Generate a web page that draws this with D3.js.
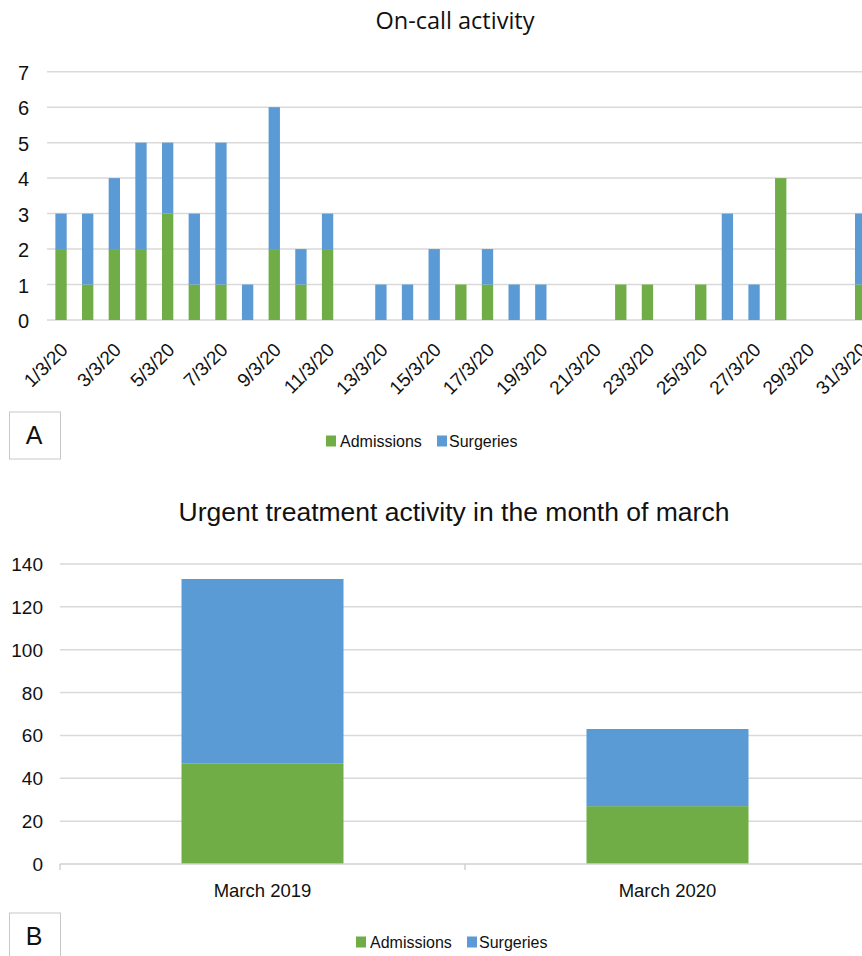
<!DOCTYPE html>
<html>
<head>
<meta charset="utf-8">
<script src="https://cdn.jsdelivr.net/npm/d3@7"></script>
<style>
    body { margin: 0; background: #fff; }
    svg { display: block; font-family: "Liberation Sans", Arial, sans-serif; }
</style>
</head>
<body>
<div id="chart"></div>
<script>
// daily on-call activity, March 2020
const dayLabels = ['1/3/20', '2/3/20', '3/3/20', '4/3/20', '5/3/20', '6/3/20', '7/3/20', '8/3/20',
    '9/3/20', '10/3/20', '11/3/20', '12/3/20', '13/3/20', '14/3/20', '15/3/20', '16/3/20',
    '17/3/20', '18/3/20', '19/3/20', '20/3/20', '21/3/20', '22/3/20', '23/3/20', '24/3/20',
    '25/3/20', '26/3/20', '27/3/20', '28/3/20', '29/3/20', '30/3/20', '31/3/20'];
const dailyAdmissions = [2, 1, 2, 2, 3, 1, 1, 0, 2, 1, 2, 0, 0, 0, 0, 1, 1, 0, 0, 0, 0, 1, 1, 0, 1, 0, 0, 4, 0, 0, 1];
const dailySurgeries = [1, 2, 2, 3, 2, 2, 4, 1, 4, 1, 1, 0, 1, 1, 2, 0, 1, 1, 1, 0, 0, 0, 0, 0, 0, 3, 1, 0, 0, 0, 2];
const dailyTicks = [0, 1, 2, 3, 4, 5, 6, 7];

// monthly totals
const months = ['March 2019', 'March 2020'];
const monthAdmissions = [47, 27];
const monthSurgeries = [86, 36];
const monthTicks = [0, 20, 40, 60, 80, 100, 120, 140];

const seriesNames = ['Admissions', 'Surgeries'];
const colors = { Admissions: '#70ad47', Surgeries: '#5b9bd5' };

const width = 862, height = 956;

const svg = d3.select('#chart').append('svg')
    .attr('width', width)
    .attr('height', height);

function stackedChart(cfg) {
    const g = svg.append('g');
    const rows = cfg.labels.map((l, i) => ({ label: l, Admissions: cfg.adm[i], Surgeries: cfg.surg[i] }));
    const series = d3.stack().keys(seriesNames)(rows);

    const x = d3.scaleBand()
        .domain(cfg.labels)
        .range(cfg.xRange)
        .paddingInner(cfg.pad)
        .paddingOuter(cfg.pad / 2);
    const y = d3.scaleLinear()
        .domain([0, d3.max(cfg.ticks)])
        .range(cfg.yRange);

    // gridlines
    g.append('g').selectAll('line')
        .data(cfg.ticks.filter(t => cfg.baseAxis ? t > 0 : true))
        .join('line')
        .attr('x1', cfg.gridX0).attr('x2', width)
        .attr('y1', d => y(d)).attr('y2', d => y(d))
        .attr('stroke', '#d9d9d9')
        .attr('stroke-width', 1.5);

    // y labels
    g.append('g').selectAll('text')
        .data(cfg.ticks)
        .join('text')
        .attr('x', cfg.yLabelX)
        .attr('y', d => y(d) + cfg.yLabelDy)
        .attr('text-anchor', 'end')
        .attr('font-size', cfg.yFont)
        .attr('fill', '#111')
        .text(d => d);

    // bars
    g.append('g').selectAll('g')
        .data(series)
        .join('g')
        .attr('fill', d => colors[d.key])
        .selectAll('rect')
        .data(d => d)
        .join('rect')
        .attr('x', d => x(d.data.label))
        .attr('width', x.bandwidth())
        .attr('y', d => y(d[1]))
        .attr('height', d => y(d[0]) - y(d[1]));

    // title
    svg.append('text')
        .attr('x', cfg.titleX)
        .attr('y', cfg.titleY)
        .attr('text-anchor', 'middle')
        .attr('font-family', cfg.titleFont)
        .attr('font-size', cfg.titleSize)
        .attr('fill', '#111')
        .text(cfg.title);

    return { g, x, y };
}

// ---- chart A
const a = stackedChart({
    labels: dayLabels, adm: dailyAdmissions, surg: dailySurgeries, ticks: dailyTicks,
    xRange: [47.7, 874], yRange: [320, 71.7], pad: 0.575,
    gridX0: 47, yLabelX: 29, yLabelDy: 8, yFont: 20,
    title: 'On-call activity', titleX: 455, titleY: 29, titleSize: 23.5,
    titleFont: '"Open Sans", sans-serif'
});

a.g.append('g').selectAll('text')
    .data(dayLabels.filter((d, i) => i % 2 == 0))
    .join('text')
    .attr('text-anchor', 'end')
    .attr('font-size', 19)
    .attr('fill', '#111')
    .attr('transform', d => 'translate(' + (a.x(d) + a.x.bandwidth() / 2 + 8) + ' ' + 351 + ') rotate(-45)')
    .text(d => d);

// ---- chart B
const b = stackedChart({
    labels: months, adm: monthAdmissions, surg: monthSurgeries, ticks: monthTicks,
    xRange: [60, 870], yRange: [864, 564], pad: 0.6,
    gridX0: 60, yLabelX: 43, yLabelDy: 7, yFont: 19, baseAxis: true,
    title: 'Urgent treatment activity in the month of march', titleX: 454, titleY: 521, titleSize: 26.5,
    titleFont: '"Liberation Sans", Arial, sans-serif'
});

b.g.append('line')
    .attr('x1', 60).attr('x2', width)
    .attr('y1', b.y(0)).attr('y2', b.y(0))
    .attr('stroke', '#d0d0d0').attr('stroke-width', 1.5);
b.g.append('g').selectAll('line')
    .data([60, 465])
    .join('line')
    .attr('x1', d => d).attr('x2', d => d)
    .attr('y1', b.y(0)).attr('y2', b.y(0) + 6)
    .attr('stroke', '#d0d0d0').attr('stroke-width', 1.5);

b.g.append('g').selectAll('text')
    .data(months)
    .join('text')
    .attr('x', d => b.x(d) + b.x.bandwidth() / 2)
    .attr('y', 897)
    .attr('text-anchor', 'middle')
    .attr('font-size', 18.5)
    .attr('fill', '#111')
    .text(d => d);

// panel letters
function panelBox(letter, top) {
    svg.append('rect')
        .attr('x', 9.5).attr('y', top)
        .attr('width', 51).attr('height', 47)
        .attr('fill', 'none')
        .attr('stroke', '#c8c8c8');
    svg.append('text')
        .attr('x', 34).attr('y', top + 32)
        .attr('text-anchor', 'middle')
        .attr('font-size', 25)
        .attr('fill', '#111')
        .text(letter);
}
panelBox('A', 412);
panelBox('B', 913);

// legends
function legend(x0, cy) {
    const lg = svg.append('g').attr('transform', 'translate(' + x0 + ' ' + cy + ')');
    seriesNames.forEach((name, i) => {
        const off = i * 111;
        lg.append('rect')
            .attr('x', off).attr('y', -5.5)
            .attr('width', 10).attr('height', 11)
            .attr('fill', colors[name]);
        lg.append('text')
            .attr('x', off + (i == 0 ? 14 : 12)).attr('y', 6)
            .attr('font-size', 16)
            .attr('fill', '#111')
            .text(name);
    });
}
legend(326, 441);
legend(356, 942);
</script>
</body>
</html>
